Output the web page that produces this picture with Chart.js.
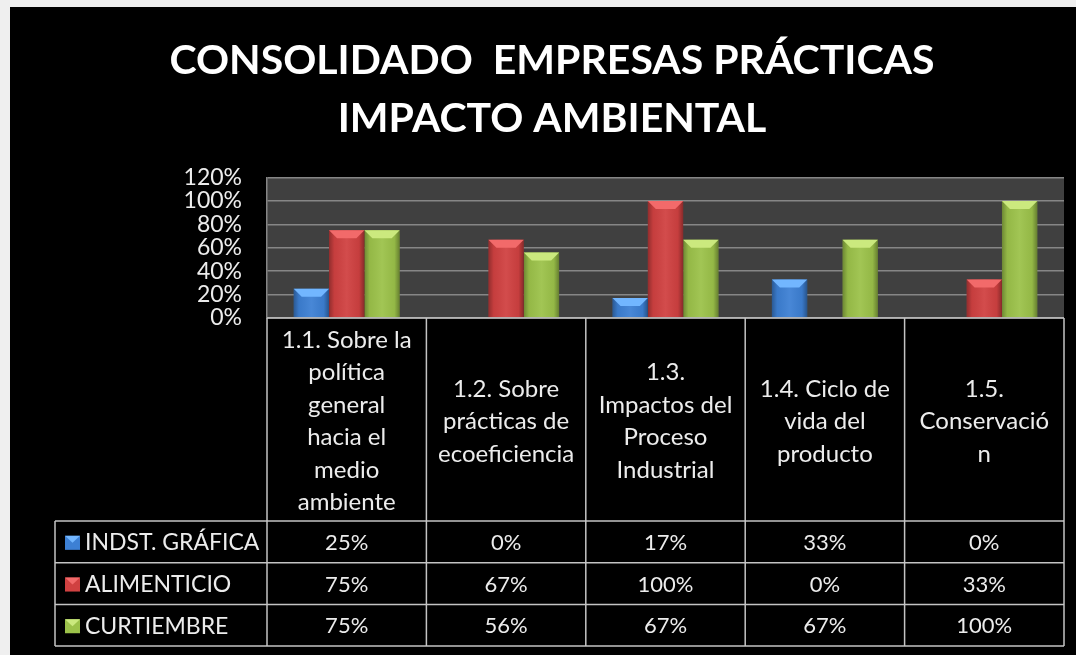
<!DOCTYPE html>
<html>
<head>
<meta charset="utf-8">
<script src="https://cdn.jsdelivr.net/npm/chart.js@4/dist/chart.umd.min.js"></script>
<style>
  html, body { margin: 0; padding: 0; background: #efefef; }
  #frame { position: absolute; left: 10px; top: 7px; width: 1066px; height: 648px; background: #000; }
  #chart-area { position: absolute; left: 0; top: 0; }
</style>
</head>
<body>
<div id="frame"></div>
<canvas id="chart-area" width="1076" height="655"></canvas>
<script>
// chart data
var categories = [
  ['1.1. Sobre la', 'política', 'general', 'hacia el', 'medio', 'ambiente'],
  ['1.2. Sobre', 'prácticas de', 'ecoeficiencia'],
  ['1.3.', 'Impactos del', 'Proceso', 'Industrial'],
  ['1.4. Ciclo de', 'vida del', 'producto'],
  ['1.5.', 'Conservació', 'n']
];
var seriesNames = ['INDST. GRÁFICA', 'ALIMENTICIO', 'CURTIEMBRE'];
var indstGrafica = [0.25, 0, 0.17, 0.33, 0];
var alimenticio = [0.75, 0.67, 1.00, 0, 0.33];
var curtiembre = [0.75, 0.56, 0.67, 0.67, 1.00];
var titleLines = ['CONSOLIDADO  EMPRESAS PRÁCTICAS', 'IMPACTO AMBIENTAL'];

var colors = ['#3d80d4', '#d04141', '#9cc24a'];
var bevelColors = ['#72b6ff', '#f26a6a', '#cbe97e'];
var FONT = 'Lato';
var textColor = '#ececec';
var lineColor = '#c4c4c4';

function pct(v) { return Math.round(v * 100) + '%'; }

var plotBackground = {
  id: 'plotBackground',
  beforeDraw: function(chart) {
    var a = chart.chartArea, ctx = chart.ctx;
    ctx.save();
    ctx.fillStyle = '#404040';
    ctx.fillRect(a.left, a.top, a.right - a.left, a.bottom - a.top);
    ctx.restore();
  }
};

// shading + top bevel on every bar, using the bar elements' own geometry
var bevel = {
  id: 'bevel',
  afterDatasetsDraw: function(chart) {
    var ctx = chart.ctx;
    chart.data.datasets.forEach(function(ds, di) {
      chart.getDatasetMeta(di).data.forEach(function(el, i) {
        if (!ds.data[i]) return;
        var p = el.getProps(['x', 'y', 'base', 'width'], true);
        var l = p.x - p.width / 2, r = p.x + p.width / 2;
        var t = p.y, b = p.base, h = b - t;
        ctx.save();
        var g = ctx.createLinearGradient(l, 0, r, 0);
        g.addColorStop(0, 'rgba(0,0,0,0.30)');
        g.addColorStop(0.15, 'rgba(0,0,0,0.05)');
        g.addColorStop(0.5, 'rgba(255,255,255,0.06)');
        g.addColorStop(0.85, 'rgba(0,0,0,0.05)');
        g.addColorStop(1, 'rgba(0,0,0,0.35)');
        ctx.fillStyle = g;
        ctx.fillRect(l, t, r - l, h);
        var bv = Math.min(8, h / 2);
        ctx.fillStyle = bevelColors[di];
        ctx.beginPath();
        ctx.moveTo(l, t);
        ctx.lineTo(r, t);
        ctx.lineTo(r - bv, t + bv);
        ctx.lineTo(l + bv, t + bv);
        ctx.closePath();
        ctx.fill();
        ctx.restore();
      });
    });
  }
};

// data table under the plot, columns taken from the x scale
var dataTable = {
  id: 'dataTable',
  afterDraw: function(chart) {
    var ctx = chart.ctx, a = chart.chartArea, xs = chart.scales.x;
    var half = (a.right - a.left) / categories.length / 2;
    var headerBottom = a.bottom + 203;
    var rowH = 41.7;
    var tableBottom = headerBottom + rowH * seriesNames.length;
    var tableLeft = 55;
    ctx.save();
    ctx.strokeStyle = lineColor;
    ctx.lineWidth = 1.5;
    ctx.beginPath();
    ctx.moveTo(a.left, a.bottom);
    ctx.lineTo(a.right, a.bottom);
    for (var i = 0; i <= categories.length; i++) {
      var bx = i < categories.length ? xs.getPixelForValue(i) - half : xs.getPixelForValue(i - 1) + half;
      ctx.moveTo(bx, a.bottom);
      ctx.lineTo(bx, tableBottom);
    }
    for (var r = 0; r <= seriesNames.length; r++) {
      ctx.moveTo(tableLeft, headerBottom + r * rowH);
      ctx.lineTo(a.right, headerBottom + r * rowH);
    }
    ctx.moveTo(tableLeft, headerBottom);
    ctx.lineTo(tableLeft, tableBottom);
    ctx.stroke();

    ctx.fillStyle = textColor;
    ctx.font = '24px ' + FONT;
    ctx.textAlign = 'center';
    ctx.textBaseline = 'middle';
    var mid = (a.bottom + headerBottom) / 2 + 2;
    categories.forEach(function(lines, ci) {
      var cx = xs.getPixelForValue(ci);
      var y0 = mid - (lines.length - 1) * 32.5 / 2;
      lines.forEach(function(s, k) { ctx.fillText(s, cx, y0 + k * 32.5); });
    });

    chart.data.datasets.forEach(function(ds, di) {
      var cy = headerBottom + di * rowH + rowH / 2 + 1;
      ctx.font = '22px ' + FONT;
      ctx.textAlign = 'center';
      ds.data.forEach(function(v, ci) {
        ctx.fillText(pct(v), xs.getPixelForValue(ci), cy);
      });
      // legend key
      ctx.fillStyle = colors[di];
      ctx.fillRect(65, cy - 7, 15, 14);
      ctx.fillStyle = bevelColors[di];
      ctx.beginPath();
      ctx.moveTo(65, cy - 7);
      ctx.lineTo(80, cy - 7);
      ctx.lineTo(72.5, cy);
      ctx.closePath();
      ctx.fill();
      ctx.fillStyle = textColor;
      ctx.font = '23px ' + FONT;
      ctx.textAlign = 'left';
      ctx.fillText(ds.label, 85, cy);
    });
    ctx.restore();
  }
};

new Chart(document.getElementById('chart-area'), {
  type: 'bar',
  data: {
    labels: categories,
    datasets: [
      { label: seriesNames[0], data: indstGrafica, backgroundColor: colors[0] },
      { label: seriesNames[1], data: alimenticio, backgroundColor: colors[1] },
      { label: seriesNames[2], data: curtiembre, backgroundColor: colors[2] }
    ]
  },
  options: {
    responsive: false,
    animation: false,
    devicePixelRatio: 1,
    layout: { padding: { left: 40, right: 12, top: 0, bottom: 337 } },
    datasets: { bar: { categoryPercentage: 0.665, barPercentage: 1 } },
    plugins: {
      legend: { display: false },
      tooltip: { enabled: false },
      title: {
        display: true,
        text: titleLines,
        color: '#ffffff',
        font: { family: FONT, size: 41, weight: 'bold', lineHeight: 1.435 },
        padding: { top: 31, bottom: 29 }
      }
    },
    scales: {
      x: {
        grid: { display: false },
        border: { display: false },
        ticks: { display: false },
        afterFit: function(s) { s.height = 0; }
      },
      y: {
        min: 0,
        max: 1.2,
        grid: { color: '#868686', lineWidth: 1.5, drawTicks: false },
        border: { display: true, color: '#868686', width: 1.5 },
        ticks: {
          stepSize: 0.2,
          autoSkip: false,
          padding: 25,
          color: textColor,
          font: { family: FONT, size: 23 },
          callback: function(v) { return pct(v); }
        },
        afterFit: function(s) { s.width = 227; }
      }
    }
  },
  plugins: [plotBackground, bevel, dataTable]
});
</script>
</body>
</html>
